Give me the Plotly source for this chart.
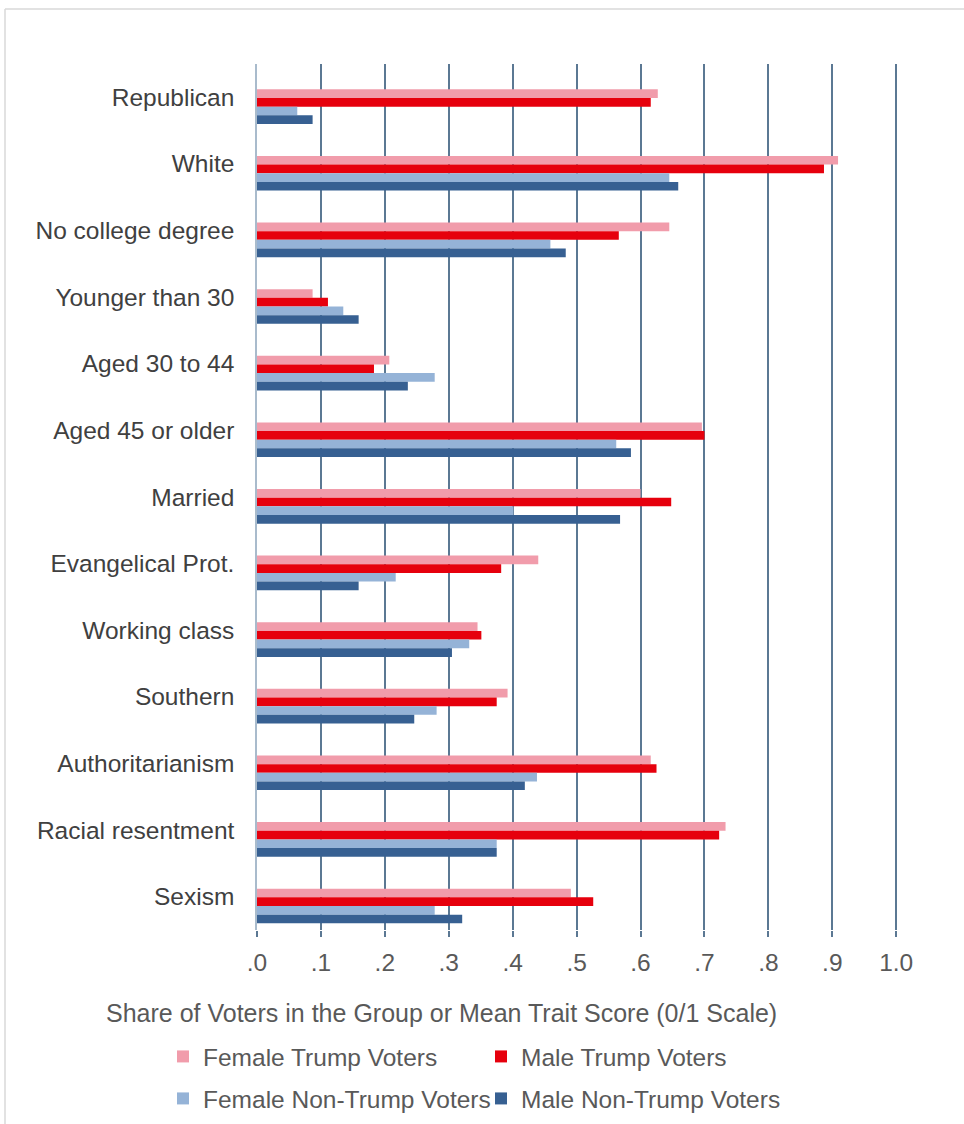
import plotly.graph_objects as go

categories = ["Republican", "White", "No college degree", "Younger than 30",
              "Aged 30 to 44", "Aged 45 or older", "Married", "Evangelical Prot.",
              "Working class", "Southern", "Authoritarianism", "Racial resentment", "Sexism"]
female_trump = [0.627, 0.909, 0.645, 0.087, 0.207, 0.696, 0.600, 0.440, 0.345, 0.392, 0.616, 0.733, 0.491]
male_trump = [0.616, 0.887, 0.566, 0.111, 0.183, 0.700, 0.648, 0.382, 0.351, 0.375, 0.625, 0.723, 0.526]
female_non_trump = [0.063, 0.645, 0.459, 0.135, 0.278, 0.562, 0.401, 0.217, 0.332, 0.281, 0.438, 0.375, 0.278]
male_non_trump = [0.087, 0.659, 0.483, 0.159, 0.236, 0.585, 0.568, 0.159, 0.305, 0.246, 0.419, 0.375, 0.321]
tick_vals = [0.0, 0.1, 0.2, 0.3, 0.4, 0.5, 0.6, 0.7, 0.8, 0.9, 1.0]
tick_text = [".0", ".1", ".2", ".3", ".4", ".5", ".6", ".7", ".8", ".9", "1.0"]

series = [
    ("Female Trump Voters", female_trump, "#F19CAB", "legend"),
    ("Male Trump Voters", male_trump, "#E6000D", "legend"),
    ("Female Non-Trump Voters", female_non_trump, "#95B3D7", "legend2"),
    ("Male Non-Trump Voters", male_non_trump, "#376092", "legend2"),
]

FONT = "Liberation Sans, Arial, sans-serif"
BW = 0.13
fig = go.Figure()
for i, (name, vals, color, leg) in enumerate(series):
    fig.add_trace(go.Bar(
        y=categories, x=vals, name=name, orientation="h",
        marker=dict(color=color, line=dict(width=0)),
        width=BW, offset=-0.12 + i * BW, legend=leg,
    ))

W, H = 964, 1124
XMAX = 1.02
L, T, B = 257, 64, 194
pw = round(639 * XMAX)
R = W - L - pw
ph = H - T - B

def px_x(x):
    return (x - L) / pw

def px_y(y):
    return (H - B - y) / ph

grid_col = "#5B7893"
fig.update_layout(
    width=W, height=H,
    margin=dict(l=L, r=R, t=T, b=B, pad=0, autoexpand=False),
    paper_bgcolor="white", plot_bgcolor="white",
    barmode="overlay",
    font=dict(family=FONT, size=24.5, color="#595959"),
    xaxis=dict(range=[0, XMAX], tickvals=tick_vals, ticktext=tick_text,
               showgrid=True, gridcolor=grid_col, gridwidth=1.5,
               zeroline=False, showline=False,
               ticks="outside", ticklen=6, tickcolor=grid_col, tickwidth=1.5,
               tickfont=dict(size=24.5, color="#595959"), ticklabelstandoff=5),
    yaxis=dict(categoryorder="array", categoryarray=categories,
               range=[12.5, -0.5], showgrid=False, zeroline=False,
               showline=True, linecolor="#A9BBCC", linewidth=1.5,
               ticks="", tickfont=dict(size=24.5, color="#404040"),
               ticklabelstandoff=16),
    legend=dict(orientation="h", x=px_x(163), xanchor="left",
                y=px_y(1034), yanchor="top", entrywidth=273,
                font=dict(size=24.5, color="#595959"), bgcolor="rgba(0,0,0,0)"),
    legend2=dict(orientation="h", x=px_x(163), xanchor="left",
                 y=px_y(1076), yanchor="top", entrywidth=273,
                 font=dict(size=24.5, color="#595959"), bgcolor="rgba(0,0,0,0)"),
    annotations=[dict(text="Share of Voters in the Group or Mean Trait Score (0/1 Scale)",
                      xref="paper", yref="paper", x=px_x(441), y=px_y(1013),
                      xanchor="center", yanchor="middle", showarrow=False,
                      font=dict(size=25, color="#595959"))],
    shapes=[
        dict(type="line", xref="paper", yref="paper", x0=px_x(5), x1=px_x(980),
             y0=px_y(9), y1=px_y(9), line=dict(color="#D9D9D9", width=1.5)),
        dict(type="line", xref="paper", yref="paper", x0=px_x(5), x1=px_x(5),
             y0=px_y(9), y1=px_y(1140), line=dict(color="#D9D9D9", width=1.5)),
    ],
    showlegend=True,
)

fig.write_html("out.html")
